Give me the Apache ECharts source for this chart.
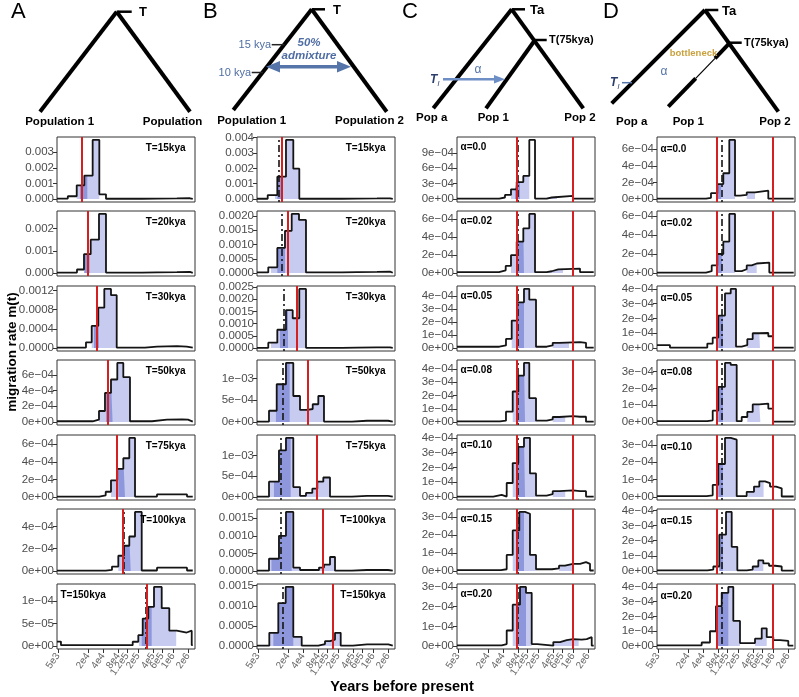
<!DOCTYPE html>
<html><head><meta charset="utf-8">
<script src="https://cdn.jsdelivr.net/npm/echarts@6/dist/echarts.min.js"></script>
<style>html,body{margin:0;padding:0;background:#fff}#c{width:799px;height:697px}</style>
</head><body><div id="c"></div>
<script>
// ================= DATA =================
const xTickYears  = [5e3, 2e4, 4e4, 8e4, 1.2e5, 2e5, 4e5, 6e5, 1e6, 2e6];
const xTickLabels = ['5e3','2e4','4e4','8e4','1.2e5','2e5','4e5','6e5','1e6','2e6'];
const xRangeYears = [4800, 2760000];

// ---- Column A: split time T ----
const A_labels = ['T=15kya','T=20kya','T=30kya','T=50kya','T=75kya','T=100kya','T=150kya'];
const A_edges = [
  [4800, 7900, 11900, 16900, 24800, 33700, 45800, 240000, 480000, 1200000, 2190000, 2490000],
  [4800, 12050, 16630, 22660, 33180, 45800, 240000, 480000, 1200000, 2190000, 2490000],
  [4800, 18230, 23730, 32150, 42390, 57660, 75020, 275900, 479600, 1205000, 1884000, 2490000],
  [4800, 24840, 33180, 43730, 57660, 77140, 101700, 138300, 380900, 760100, 1517000, 2001000, 2490000],
  [4800, 33670, 45210, 57660, 77140, 101700, 134000, 174300, 479600, 957600, 1910000, 2490000],
  [4800, 45210, 60380, 80790, 104900, 134000, 174300, 237300, 479600, 957600, 1910000, 2490000],
  [4800, 5760, 156800, 202900, 248500, 321500, 418000, 596000, 845600, 1189000, 1497000, 1884000, 2373000, 2490000]
];
const A_rates = [
  [3e-5, 1.8e-4, 8.8e-4, 1.5e-3, 3.78e-3, 3e-4, 2e-5, 3e-5, 4e-5, 5e-5, 1e-5],
  [2e-5, 1.6e-4, 8.5e-4, 1.5e-3, 2.66e-3, 2e-5, 3e-5, 4e-5, 5e-5, 1e-5],
  [1e-5, 1.2e-4, 4.6e-4, 8.4e-4, 1.23e-3, 1.1e-3, 1e-5, 3e-5, 4e-5, 3e-5, 1e-5],
  [1e-5, 3e-5, 1.4e-4, 3.7e-4, 5.4e-4, 7.5e-4, 5.7e-4, 1e-5, 3e-5, 3.5e-5, 3e-5, 5e-6],
  [5e-6, 2e-5, 6e-5, 1.9e-4, 3.2e-4, 4.4e-4, 6.7e-4, 5e-6, 3e-5, 3e-5, 5e-6],
  [3e-6, 1e-5, 4e-5, 1.37e-4, 2.27e-4, 3.1e-4, 5.3e-4, 5e-6, 3e-5, 3e-5, 5e-6],
  [1e-5, 2e-6, 9.5e-6, 2.4e-5, 6.1e-5, 8.7e-5, 1.31e-4, 8.4e-5, 3.4e-5, 3.2e-5, 3e-5, 3.4e-5, 2e-6]
];
const A_light = [[[11890,33670]],[[16630,45800]],[[23730,75020]],[[33180,138300]],[[57660,174300]],[[80790,237300]],[[209300,1162000]]];
const A_dark  = [[[13820,19380]],[[17000,21500]],[[26360,33180]],[[45800,62000]],[[80790,109900]],[[104900,143000]],[[237300,375500]]];
const A_red   = [[15000],[20000],[30000],[50000],[75000],[100000],[302600]];
const A_dash  = [[14800],[19700],[29600],[49500],[74000],[101500],[285000]];
const A_yTicks = [[0,0.001,0.002,0.003],[0,0.001,0.002],[0,0.0004,0.0008,0.0012],[0,2e-4,4e-4,6e-4],[0,2e-4,4e-4,6e-4],[0,2e-4,4e-4],[0,5e-5,1e-4]];
const A_yFmt = [3,3,4,'e','e','e','e'];

// ---- Column B: admixture 10-15 kya ----
const B_labels = ['T=15kya','T=20kya','T=30kya','T=50kya','T=75kya','T=100kya','T=150kya'];
const B_edges = [
  [4800, 7860, 12230, 18230, 25540, 33670, 240300, 479600, 1205000, 2194000, 2490000],
  [4800, 8070, 12230, 17410, 23730, 33180, 45800, 240300, 479600, 1205000, 2194000, 2490000],
  [4800, 8070, 12230, 18230, 24840, 33670, 45800, 240300, 479600, 1205000, 2194000, 2490000],
  [4800, 8340, 11890, 18230, 25540, 34770, 48670, 62400, 80790, 104900, 380900, 760100, 1517000, 2001000, 2490000],
  [4800, 8340, 13200, 18230, 25540, 34770, 45800, 61260, 77140, 101700, 138300, 380900, 760100, 1517000, 2001000, 2490000],
  [4800, 8340, 13200, 18230, 25540, 34770, 83400, 104900, 138400, 174300, 380900, 760100, 1517000, 2001000, 2490000],
  [4800, 8460, 12800, 18000, 25540, 37600, 80790, 109900, 138300, 174300, 226600, 399300, 760100, 1517000, 2029000, 2490000]
];
const B_rates = [
  [2e-5, 2.6e-4, 1.46e-3, 3.85e-3, 1.98e-3, 2e-5, 3e-5, 4e-5, 5e-5, 1e-5],
  [2e-5, 2e-4, 8.8e-4, 1.48e-3, 2.07e-3, 1.86e-3, 2e-5, 3e-5, 4e-5, 5e-5, 1e-5],
  [1e-5, 2.2e-4, 7.5e-4, 1.55e-3, 1.22e-3, 2.42e-3, 1e-5, 2e-5, 3e-5, 3e-5, 1e-5],
  [1e-5, 2.6e-4, 8.7e-4, 1.36e-3, 6e-4, 2.8e-4, 3e-4, 4.1e-4, 6e-4, 1e-5, 3e-5, 3e-5, 3e-5, 1e-5],
  [1e-5, 3.7e-4, 1.12e-3, 1.42e-3, 2.4e-4, 3e-5, 1e-4, 2e-4, 3.7e-4, 4.7e-4, 1e-5, 3e-5, 3e-5, 3e-5, 1e-5],
  [1e-5, 3.5e-4, 1e-3, 1.68e-3, 1e-4, 3e-5, 1e-4, 1.8e-4, 4e-4, 1e-5, 3e-5, 3e-5, 3e-5, 1e-5],
  [1e-5, 3.3e-4, 1.07e-3, 1.47e-3, 2.3e-4, 1e-5, 5e-5, 1.2e-4, 1.6e-4, 3.3e-4, 1e-5, 4e-5, 4e-5, 4e-5, 1e-5]
];
const B_light = [[[11000,33670]],[[9120,45800]],[[9120,45800]],[[8340,104900]],[[8340,138300]],[[8340,174300]],[[8710,226600]]];
const B_dark  = [[[12230,15200]],[[12230,17410]],[[13820,20000]],[[11480,21600]],[[10480,22660]],[[9330,23730]],[[10180,25540]]];
const B_red   = [[15000],[20000],[30000],[50000],[75000],[100000],[154000]];
const B_dash  = [[13200],[15200],[16100],[15500],[14470],[14470],[15500]];
const B_yTicks = [[0,0.001,0.002,0.003,0.004],[0,0.0005,0.001,0.0015,0.002],[0,0.0005,0.001,0.0015,0.002,0.0025],[0,5e-4,1e-3],[0,5e-4,1e-3],[0,0.0005,0.001,0.0015],[0,0.0005,0.001,0.0015]];
const B_yFmt = [3,4,4,'e','e',4,4];

// ---- Column C: ghost admixture alpha ----
const C_labels = ['α=0.0','α=0.02','α=0.05','α=0.08','α=0.10','α=0.15','α=0.20'];
const C_edges = [
  [4800, 33670, 43730, 57660, 75020, 101700, 134000, 174300, 298600, 375900, 1000000, 2600000],
  [4800, 33180, 45210, 57660, 75020, 101700, 134000, 174300, 298600, 375900, 509600, 1384000, 2600000],
  [4800, 33670, 45800, 59600, 77140, 104900, 134000, 182500, 298600, 393600, 533700, 1384000, 1825000, 2600000],
  [4800, 34770, 45800, 62400, 80790, 104900, 134000, 182500, 298600, 393600, 533700, 1000000, 1384000, 1825000, 2600000],
  [4800, 25540, 37600, 47340, 62400, 80790, 104900, 138300, 182500, 298600, 393600, 533700, 1000000, 1384000, 1825000, 2600000],
  [4800, 36380, 47340, 62400, 84580, 109900, 138300, 182500, 380900, 526000, 693300, 1000000, 1384000, 1825000, 2194000, 2600000],
  [4800, 37600, 47340, 62400, 87270, 115000, 149700, 193700, 404800, 550800, 750300, 1000000, 1497000, 1884000, 2373000, 2600000]
];
const C_rates = [
  [1e-5, 3e-5, 8e-5, 1.9e-4, 3.3e-4, 4.5e-4, 1.15e-3, 1e-5, 3e-5, 6e-5, 1e-5],
  [1e-5, 3e-5, 8e-5, 2e-4, 3.5e-4, 5e-4, 6.6e-4, 1e-5, 2e-5, 4e-5, 5e-5, 1e-5],
  [1e-5, 2e-5, 7e-5, 2.1e-4, 3.5e-4, 4.52e-4, 3.7e-4, 1e-5, 2e-5, 4e-5, 4.5e-5, 4e-5, 3e-6],
  [5e-6, 1e-5, 7.8e-5, 2.3e-4, 3.5e-4, 4.45e-4, 1.8e-4, 1e-5, 2e-5, 3.8e-5, 4.5e-5, 4e-5, 4e-5, 3e-6],
  [3e-6, 1.5e-5, 3e-6, 9.5e-5, 2.3e-4, 3.4e-4, 4e-4, 1.6e-4, 1e-5, 2e-5, 4e-5, 4.5e-5, 4e-5, 4e-5, 3e-6],
  [5e-6, 1e-5, 9e-5, 2.27e-4, 3.3e-4, 3.2e-4, 9e-5, 1e-5, 1.5e-5, 3e-5, 4e-5, 4e-5, 5e-5, 4e-5, 3e-6],
  [3e-6, 1e-5, 7.9e-5, 2.1e-4, 3e-4, 2.7e-4, 1e-5, 2e-6, 2e-5, 3e-5, 3.5e-5, 3.3e-5, 3.5e-5, 4.5e-5, 2e-6]
];
const C_light = [[[57660,134000],[298600,479600]],[[57660,174300],[298600,632300]],[[59600,182500],[393600,833400]],[[62400,182500],[393600,700000]],[[62400,182500],[393600,700000]],[[62400,182500],[526000,1000000]],[[62400,149700],[404800,1300000]]];
const C_dark  = [[[69320,87270]],[[75020,104900]],[[77140,104900]],[[77140,110000]],[[77140,110000]],[[77140,104900]],[[75000,115000]]];
const C_red   = [[75000,1000000],[75000,1000000],[75000,1000000],[75000,1000000],[75000,1000000],[75000,1000000],[75000,1000000]];
const C_dash  = [[78000],[78000],[78000],[78000],[78000],[78000],[78000]];
const C_yTicks = [[0,3e-4,6e-4,9e-4],[0,2e-4,4e-4,6e-4],[0,1e-4,2e-4,3e-4,4e-4],[0,1e-4,2e-4,3e-4,4e-4],[0,1e-4,2e-4,3e-4,4e-4],[0,1e-4,2e-4,3e-4],[0,1e-4,2e-4,3e-4]];
const C_yFmt = ['e','e','e','e','e','e','e'];

// ---- Column D: bottleneck ----
const D_labels = ['α=0.0','α=0.02','α=0.05','α=0.08','α=0.10','α=0.15','α=0.20'];
const D_edges = [
  [4800, 45800, 57660, 77140, 101700, 134000, 174300, 219400, 298600, 437700, 807800, 2600000],
  [4800, 45800, 59600, 77140, 101700, 134000, 174300, 237300, 298600, 375900, 473300, 845600, 2600000],
  [4800, 8710, 48670, 62400, 80790, 109900, 143000, 182500, 237300, 307000, 393600, 533700, 807800, 1000000, 2600000],
  [4800, 48670, 62400, 80790, 109900, 143000, 188400, 237300, 307000, 393600, 533700, 807800, 1000000, 2600000],
  [4800, 47340, 62400, 80790, 109900, 143000, 188400, 298600, 418000, 533700, 693300, 873600, 1151000, 1497000, 2600000],
  [4800, 48670, 64170, 84580, 115200, 149700, 193700, 298600, 393600, 509600, 641600, 834200, 1099000, 1497000, 2600000],
  [4800, 37600, 55060, 72590, 94460, 128000, 161100, 219200, 437700, 596000, 750300, 1017000, 1384000, 2029000, 2554000]
];
const D_rates = [
  [5e-6, 1.5e-5, 7e-5, 1.8e-4, 3.1e-4, 7.1e-4, 4e-5, 5e-5, 8e-5, 1e-4, 5e-6],
  [5e-6, 2e-5, 8e-5, 2e-4, 3.3e-4, 6.2e-4, 2e-5, 4e-5, 8e-5, 1e-4, 1.1e-4, 5e-6],
  [2e-5, 3e-6, 3e-5, 7e-5, 2.2e-4, 3.7e-4, 4e-4, 1e-5, 2e-5, 6e-5, 1e-4, 1.02e-4, 8e-5, 3e-6],
  [5e-6, 1e-5, 6.8e-5, 2.1e-4, 3.52e-4, 3.4e-4, 5e-6, 3e-5, 6e-5, 1.05e-4, 1.1e-4, 8e-5, 3e-6],
  [5e-6, 1e-5, 7e-5, 1.9e-4, 3.4e-4, 3.3e-4, 5e-6, 3e-5, 6e-5, 9e-5, 8e-5, 6e-5, 5e-5, 3e-6],
  [5e-6, 1e-5, 3e-5, 2.4e-4, 3.9e-4, 1.6e-4, 5e-6, 1e-5, 3e-5, 7e-5, 5e-5, 3.5e-5, 3e-5, 3e-6],
  [5e-6, 2.4e-5, 1e-4, 2.7e-4, 3.6e-4, 4e-4, 1.7e-4, 2e-5, 5e-5, 1.2e-4, 6e-5, 4e-5, 3.5e-5, 3e-6]
];
const D_light = [[[77140,174300],[298600,437700]],[[77140,174300],[298600,473300]],[[80790,182500],[307000,550000]],[[80790,188400],[307000,560000]],[[80790,188400],[320000,650000]],[[84580,193700],[393600,641600]],[[72590,219200],[437700,750300]]];
const D_dark  = [[[77140,92000]],[[77140,95000]],[[80790,100000]],[[80790,100000]],[[80790,100000]],[[84580,100000]],[[78000,128000]]];
const D_red   = [[75000,1000000],[75000,1000000],[75000,1000000],[75000,1000000],[75000,1000000],[75000,1000000],[75000,1000000]];
const D_dash  = [[95700],[95700],[95700],[95700],[95700],[95700],[95700]];
const D_yTicks = [[0,2e-4,4e-4,6e-4],[0,2e-4,4e-4,6e-4],[0,1e-4,2e-4,3e-4,4e-4],[0,1e-4,2e-4,3e-4],[0,1e-4,2e-4,3e-4],[0,1e-4,2e-4,3e-4,4e-4],[0,1e-4,2e-4,3e-4,4e-4]];
const D_yFmt = ['e','e','e','e','e','e','e'];

// ================= LAYOUT / STYLE =================
const COL_LEFT = [57, 257, 457, 657];
const PANEL_W = 138;
const ROW_TOP = [137, 211, 286, 360, 435, 509, 584];
const PANEL_H = 65;
const FONT = '"Liberation Sans", Arial, Helvetica, sans-serif';
const LIGHT = '#c7cbf0', DARK = '#8e97dc', RED = '#d42020', INK = '#141414';
const BLUE = '#4f6da3';

const columns = [
  {edges:A_edges, rates:A_rates, light:A_light, dark:A_dark, red:A_red, dash:A_dash, yTicks:A_yTicks, yFmt:A_yFmt, labels:A_labels, lpos:['r','r','r','r','r','r','l'], ldy:11},
  {edges:B_edges, rates:B_rates, light:B_light, dark:B_dark, red:B_red, dash:B_dash, yTicks:B_yTicks, yFmt:B_yFmt, labels:B_labels, lpos:['r','r','r','r','r','r','r'], ldy:11},
  {edges:C_edges, rates:C_rates, light:C_light, dark:C_dark, red:C_red, dash:C_dash, yTicks:C_yTicks, yFmt:C_yFmt, labels:C_labels, lpos:['l','l','l','l','l','l','l'], ldy:10.5},
  {edges:D_edges, rates:D_rates, light:D_light, dark:D_dark, red:D_red, dash:D_dash, yTicks:D_yTicks, yFmt:D_yFmt, labels:D_labels, lpos:['l','l','l','l','l','l','l'], ldy:12.5}
];

const lg = Math.log10;
const xTickLogs = xTickYears.map(lg);

function valAt(edges, rates, x){
  for (let i = 0; i < rates.length; i++) { if (x < edges[i+1]) return rates[i]; }
  return rates[rates.length-1];
}
function stepPoints(edges, rates){
  const p = rates.map((v,i)=>[lg(edges[i]), v]);
  p.push([lg(edges[edges.length-1]), rates[rates.length-1]]);
  return p;
}
function clipPoints(edges, rates, a, b){
  const p = [[lg(a), valAt(edges, rates, a)]];
  edges.forEach(e => { if (e > a && e < b) p.push([lg(e), valAt(edges, rates, e)]); });
  p.push([lg(b), valAt(edges, rates, b*0.99999)]);
  return p;
}
function fmtY(v, f){
  if (f === 'e') {
    if (Math.abs(v) < 1e-15) return '0e+00';
    let e = Math.floor(Math.log10(Math.abs(v)) + 1e-9);
    let m = Math.round(v / Math.pow(10, e));
    if (m >= 10) { m = m/10; e += 1; }
    const ae = Math.abs(e);
    return m + 'e' + (e < 0 ? '\u2212' : '+') + (ae < 10 ? '0' + ae : '' + ae);
  }
  return Math.abs(v) < 1e-15 ? (0).toFixed(f) : v.toFixed(f);
}

const option = {animation:false, backgroundColor:'#ffffff', grid:[], xAxis:[], yAxis:[], series:[], graphic:{elements:[]}};
const G = option.graphic.elements;

columns.forEach((col, ci) => {
  for (let r = 0; r < 7; r++) {
    const gi = ci*7 + r;
    const left = COL_LEFT[ci], top = ROW_TOP[r];
    option.grid.push({left:left, top:top, width:PANEL_W, height:PANEL_H, show:true, borderColor:'#333', borderWidth:1, backgroundColor:'rgba(0,0,0,0)'});
    const isBottom = (r === 6);
    option.xAxis.push({
      gridIndex:gi, type:'value', min:lg(xRangeYears[0]), max:lg(xRangeYears[1]),
      splitLine:{show:false}, axisLine:{show:false, onZero:false},
      axisTick:{show:isBottom, customValues:xTickLogs, length:4, lineStyle:{color:'#333', width:1}},
      axisLabel:{show:isBottom, customValues:xTickLogs, rotate:55, fontSize:10, color:'#666', margin:5, fontFamily:FONT,
        formatter:(v)=>{ const i = xTickLogs.findIndex(t=>Math.abs(t-v)<1e-6); return i>=0 ? xTickLabels[i] : ''; }}
    });
    const rates = col.rates[r];
    const M = Math.max.apply(null, rates);
    const fmt = col.yFmt[r];
    option.yAxis.push({
      gridIndex:gi, type:'value', min:-0.05*M, max:1.05*M,
      splitLine:{show:false}, axisLine:{show:false, onZero:false},
      axisTick:{show:true, customValues:col.yTicks[r], length:4, lineStyle:{color:'#333', width:1}},
      axisLabel:{customValues:col.yTicks[r], fontSize:11.5, color:'#4d4d4d', margin:3, fontFamily:FONT, formatter:(v)=>fmtY(v, fmt)}
    });
    const edges = col.edges[r];
    col.light[r].forEach(rg => option.series.push({
      type:'line', xAxisIndex:gi, yAxisIndex:gi, step:'end', symbol:'none', silent:true, z:1,
      data:clipPoints(edges, rates, rg[0], rg[1]), lineStyle:{width:0, opacity:0}, areaStyle:{color:LIGHT, opacity:1}
    }));
    col.dark[r].forEach(rg => option.series.push({
      type:'line', xAxisIndex:gi, yAxisIndex:gi, step:'end', symbol:'none', silent:true, z:1,
      data:clipPoints(edges, rates, rg[0], rg[1]), lineStyle:{width:0, opacity:0}, areaStyle:{color:DARK, opacity:1}
    }));
    const mlData = [];
    col.dash[r].forEach(d => mlData.push({xAxis:lg(d), lineStyle:{color:INK, width:1.6, type:[2,3,7,3]}}));
    col.red[r].forEach(d => mlData.push({xAxis:lg(d), lineStyle:{color:RED, width:2, type:'solid'}}));
    option.series.push({
      type:'line', xAxisIndex:gi, yAxisIndex:gi, step:'end', symbol:'none', silent:true, z:3,
      data:stepPoints(edges, rates), lineStyle:{color:INK, width:1.8},
      markLine:{silent:true, symbol:['none','none'], animation:false, label:{show:false}, data:mlData}
    });
    // panel label
    const isR = col.lpos[r] === 'r';
    G.push({type:'text', x: isR ? left + PANEL_W - 9.5 : left + 3.5, y: top + col.ldy, z:100,
      style:{text:col.labels[r], fill:'#000', font:'bold 10px ' + FONT,
        align: isR ? 'right' : 'left', verticalAlign:'middle', textAlign: isR ? 'right' : 'left', textVerticalAlign:'middle'}});
  }
});

// ================= DIAGRAMS =================
function L(x1,y1,x2,y2,w,c){ G.push({type:'line', silent:true, shape:{x1:x1,y1:y1,x2:x2,y2:y2}, style:{stroke:c||'#000', lineWidth:(w===undefined?4:w), lineCap:'butt'}}); }
function P(pts,c){ G.push({type:'polygon', silent:true, shape:{points:pts}, style:{fill:c}}); }
function T(text,x,y,font,fill,align,rot){
  const el = {type:'text', silent:true, x:x, y:y, style:{text:text, font:font, fill:fill||'#000', align:align||'center', verticalAlign:'middle', textAlign:align||'center', textVerticalAlign:'middle'}};
  if (rot) el.rotation = rot;
  G.push(el);
}
const bold = (s)=>'bold ' + s + 'px ' + FONT;
const norm = (s)=>s + 'px ' + FONT;

// panel letters
T('A', 11, 12, norm(22), '#000', 'left');
T('B', 203, 12, norm(22), '#000', 'left');
T('C', 402, 12, norm(22), '#000', 'left');
T('D', 603, 12, norm(22), '#000', 'left');

// A tree
L(116.7,11.7,40,111.7); L(116.7,11.7,190,111.7); L(116.7,11.7,131.7,11.7,2.5);
T('T', 139, 12, bold(13), '#000', 'left');
T('Population 1', 59.7, 121.7, bold(11.5));
T('Population', 172.5, 121.7, bold(11.5));

// B tree
L(311.7,9.3,233.3,110); L(311.7,9.3,386.7,111.7); L(311.7,9.3,325,9.3,2.5);
T('T', 333, 10, bold(13), '#000', 'left');
T('15 kya', 271, 45, norm(11), BLUE, 'right'); L(271.7,44.7,284.5,44.7,1.5,'#222');
T('10 kya', 251, 72.5, norm(11), BLUE, 'right'); L(251.7,72.5,263,72.5,1.5,'#222');
T('50%', 309, 42.5, 'italic bold 11.5px ' + FONT, BLUE);
T('admixture', 309, 56, 'italic bold 11.5px ' + FONT, BLUE);
L(276,66.7,341,66.7,3.5,'#5474aa');
P([[266,66.7],[280,61],[280,72.4]],'#5474aa'); P([[351,66.7],[337,61],[337,72.4]],'#5474aa');
T('Population 1', 251.7, 120.5, bold(11.5));
T('Population 2', 369.5, 120.5, bold(11.5));

// C tree
L(511.7,9.3,433.3,108.3); L(511.7,9.3,583.3,108.3); L(511.7,9.3,525,9.3,2.5);
T('Ta', 530, 10, bold(13), '#000', 'left');
L(535,40,546.7,40,2.5); T('T(75kya)', 549, 39.5, bold(11), '#000', 'left');
L(535,40,486,108.3);
T('T', 430, 79.5, 'italic bold 12px ' + FONT, '#2b3d6b', 'left');
T('l', 437.5, 83.5, 'italic 8px ' + FONT, '#2b3d6b', 'left');
L(443,79.3,496,79.3,2.5,'#6e8ec6'); P([[505,79.3],[494,75],[494,83.6]],'#6e8ec6');
T('α', 478, 70, norm(12), '#5474aa');
T('Pop a', 431.7, 118.3, bold(11.5));
T('Pop 1', 493.3, 118.3, bold(11.5));
T('Pop 2', 580, 118.3, bold(11.5));

// D tree
L(705,10,611.7,103.3); L(705,10,778.3,111.7); L(705,10,718.3,10,2.5);
T('Ta', 722, 11, bold(13), '#000', 'left');
L(730,42.7,741.7,42.7,2.5); T('T(75kya)', 744, 43, bold(11), '#000', 'left');
L(730,42.7,715,58.3,4); L(715,58.3,695.7,78.3,1.2); L(695.7,78.3,668.3,106.7,4);
T('bottleneck', 693.5, 53.5, bold(9.5), '#c9a23f');
T('α', 664, 71.5, norm(12), '#5474aa');
T('T', 610, 82.5, 'italic bold 12px ' + FONT, '#2b3d6b', 'left');
T('l', 617.5, 86.5, 'italic 8px ' + FONT, '#2b3d6b', 'left');
L(622,82.7,632,82.7,1.5,'#5474aa');
T('Pop a', 631.7, 121.7, bold(11.5));
T('Pop 1', 688.3, 121.7, bold(11.5));
T('Pop 2', 775, 121.7, bold(11.5));

// axis titles
T('migration rate m(t)', 12, 352, bold(13.5), '#000', 'center', Math.PI/2);
T('Years before present', 402, 687, bold(14.5), '#000', 'center');

const chart = echarts.init(document.getElementById('c'), null, {renderer:'canvas', width:799, height:697});
chart.setOption(option);
</script>
</body></html>
